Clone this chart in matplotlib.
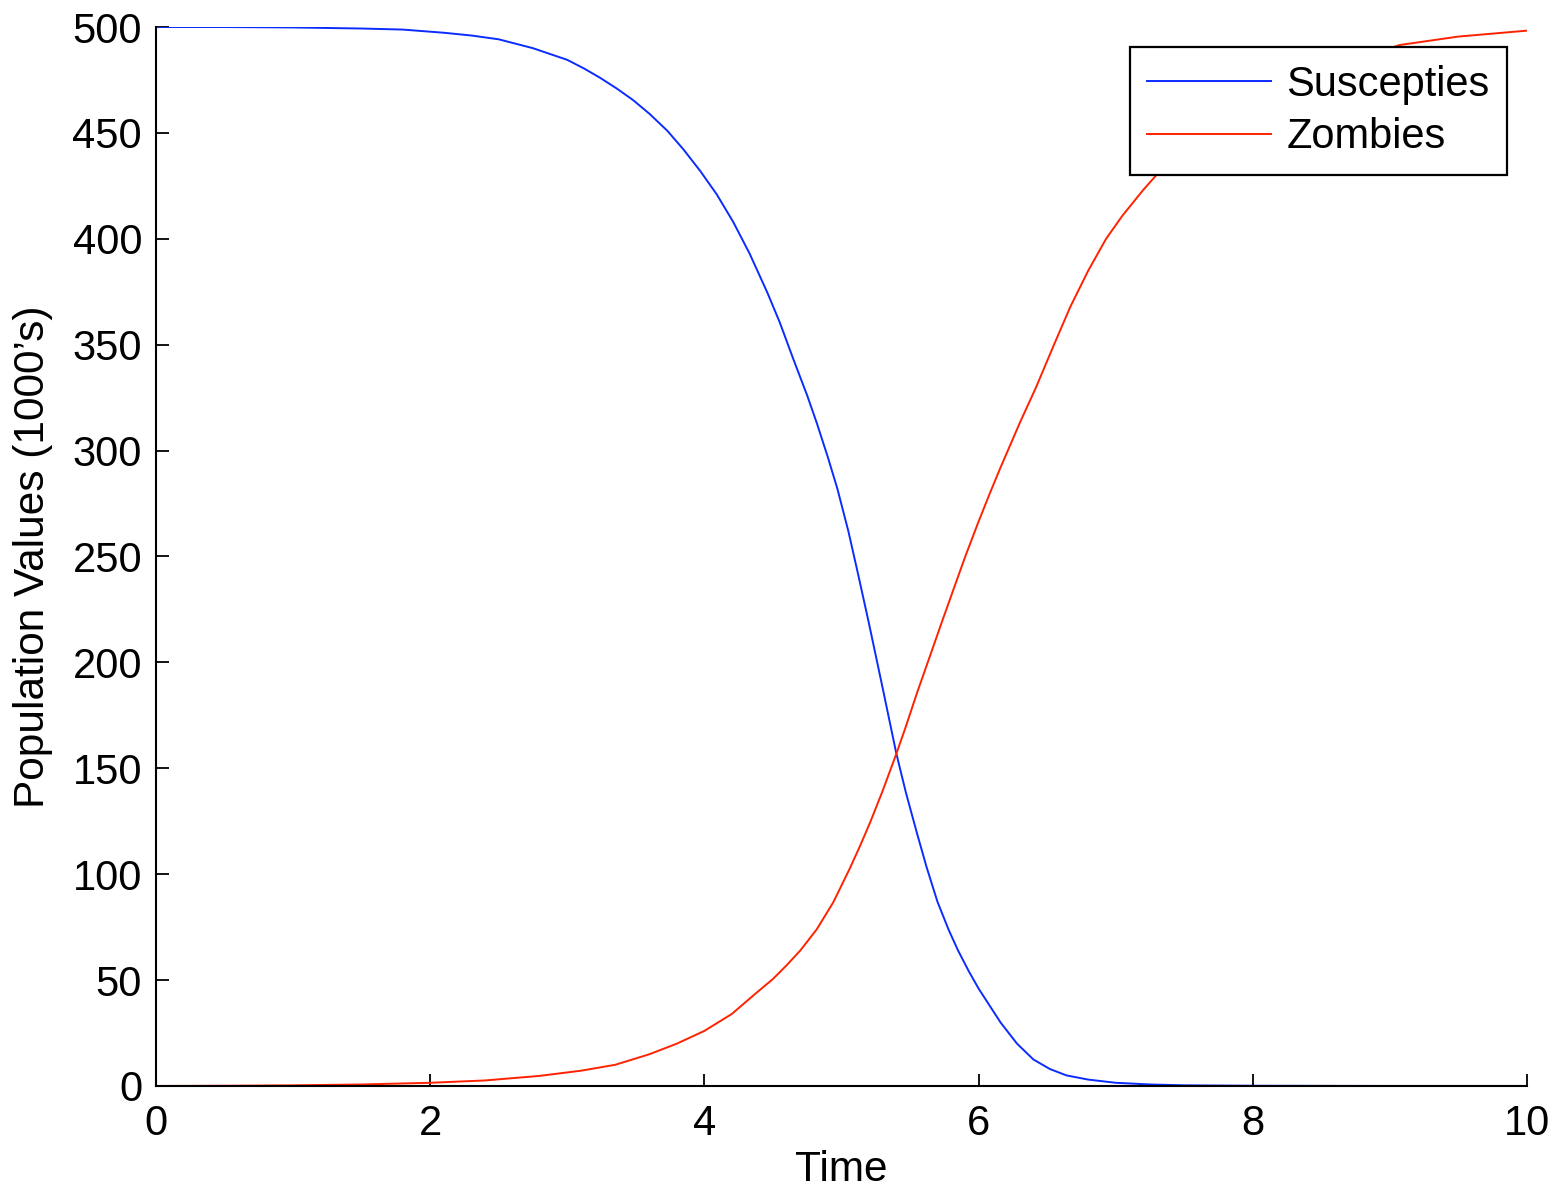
import matplotlib
matplotlib.use("Agg")
import matplotlib.pyplot as plt

# values (population in 1000's)
t_s = [0, 0.5, 1.0, 1.5, 1.8, 2.1, 2.3, 2.5, 2.75, 3.0, 3.12, 3.24, 3.36, 3.48, 3.6,
       3.73, 3.85, 3.97, 4.09, 4.21, 4.33, 4.46, 4.55, 4.65, 4.75, 4.82, 4.9, 4.97,
       5.05, 5.12, 5.2, 5.3, 5.4, 5.47, 5.55, 5.62, 5.7, 5.78, 5.85, 5.93, 6.0, 6.08,
       6.16, 6.28, 6.4, 6.52, 6.64, 6.8, 7.0, 7.25, 7.5, 8, 9, 10]
susc = [500, 500, 499.8, 499.3, 498.8, 497.3, 496, 494.2, 490, 484.5, 480.5, 476, 471,
        465.5, 459, 451, 442, 432, 421, 408, 393, 374.5, 360.5, 343, 326, 313, 297, 282,
        262, 242, 218.5, 188, 157, 138.5, 119.5, 103.5, 87, 74, 64, 54, 46, 38,
        30, 20, 12.5, 8, 5, 3, 1.5, 0.7, 0.3, 0.1, 0, 0]

t_z = [0, 0.5, 1.0, 1.5, 2.0, 2.4, 2.79, 3.1, 3.35, 3.6, 3.8, 4.0, 4.2, 4.38, 4.5,
       4.6, 4.7, 4.82, 4.94, 5.06, 5.14, 5.21, 5.3, 5.4, 5.47, 5.55, 5.64, 5.74, 5.82,
       5.9, 6.0, 6.08, 6.16, 6.3, 6.42, 6.55, 6.67, 6.8, 6.93, 7.05, 7.2, 7.35, 7.6,
       8.0, 8.5, 9.07, 9.5, 10]
zomb = [0, 0.1, 0.3, 0.7, 1.5, 2.6, 4.7, 7.2, 10, 15, 20, 26, 34, 44, 50.5,
        57, 64, 74, 86.7, 102.6, 114, 124.6, 139.3, 156.8, 169.8, 185.4, 202, 220.5, 235,
        249.5, 266.5, 279.5, 292, 313, 330, 350, 368, 385, 400, 411, 423, 434, 448,
        464, 479, 491.5, 495.5, 498.3]

labels = ["Suscepties", "Zombies"]
xticks = [0, 2, 4, 6, 8, 10]
yticks = list(range(0, 501, 50))

plt.rcParams['font.family'] = ['Liberation Sans', 'DejaVu Sans']

fig = plt.figure(figsize=(15.57, 11.91), dpi=100)
ax = fig.add_axes([0.1002, 0.0882, 0.8805, 0.8891])

ax.plot(t_s, susc, color='#0a2cff', lw=1.4, label=labels[0])
ax.plot(t_z, zomb, color='#ff2200', lw=1.4, label=labels[1])

ax.set_xlim(0, 10)
ax.set_ylim(0, 500)
ax.set_xticks(xticks)
ax.set_yticks(yticks)

for side in ['top', 'right']:
    ax.spines[side].set_visible(False)
for side in ['left', 'bottom']:
    ax.spines[side].set_linewidth(1.5)

ax.tick_params(direction='in', length=9, width=1.3, labelsize=30, colors='black')
ax.tick_params(axis='x', pad=13)
ax.tick_params(axis='y', pad=10)

ax.set_xlabel("Time", fontsize=30.5, labelpad=4)
ax.set_ylabel("Population Values (1000\u2019s)", fontsize=30.5, labelpad=14)

leg = ax.legend(loc='upper right', bbox_to_anchor=(0.9854, 0.981), borderaxespad=0,
                fontsize=30, fancybox=False, framealpha=1, edgecolor='black',
                handlelength=2.97, handletextpad=0.36, labelspacing=0.3, borderpad=0.42)
leg.get_frame().set_linewidth(1.6)

fig.savefig("out.png", dpi=100)
